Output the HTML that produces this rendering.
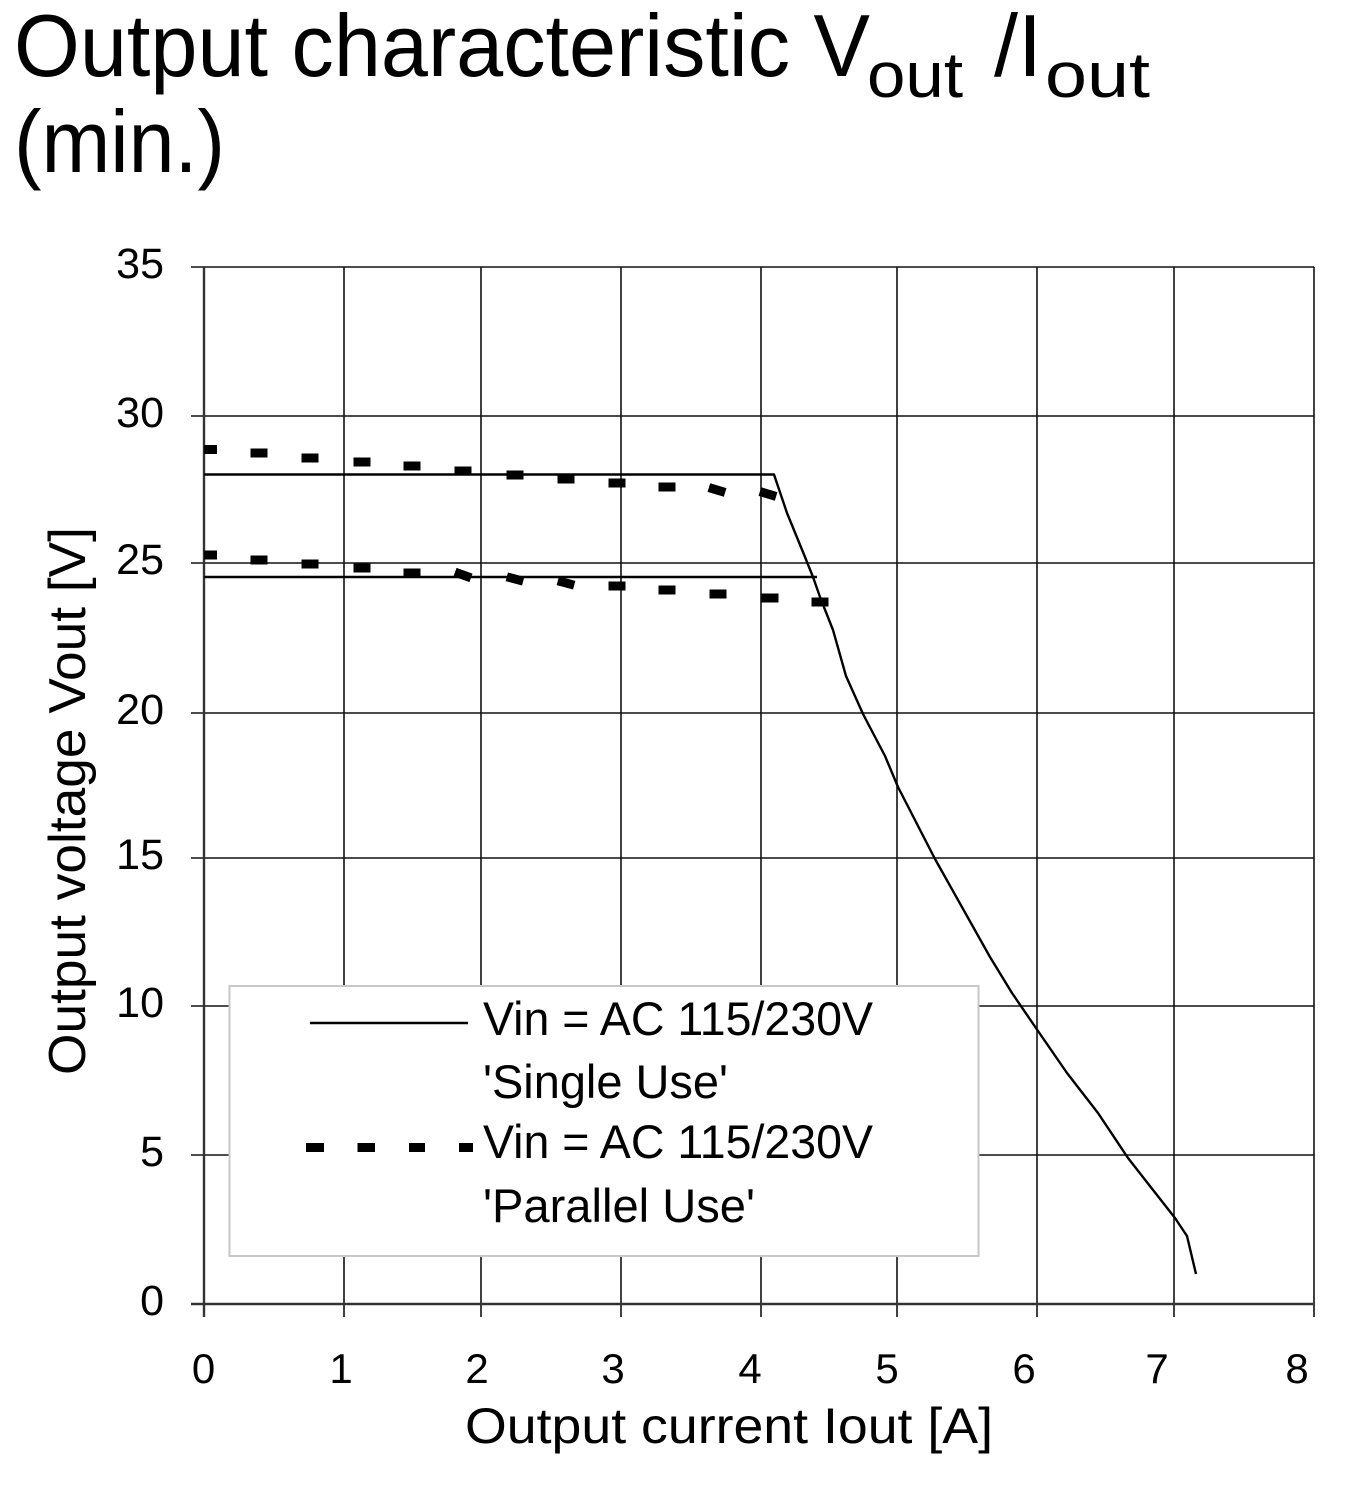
<!DOCTYPE html>
<html><head><meta charset="utf-8"><style>
html,body{margin:0;padding:0;background:#fff;}
svg{display:block;}
text{font-family:"Liberation Sans",sans-serif;fill:#000;}
</style></head><body>
<svg width="1357" height="1500" viewBox="0 0 1357 1500" xmlns="http://www.w3.org/2000/svg">
<rect x="0" y="0" width="1357" height="1500" fill="#fff"/>
<!-- Title -->
<text x="14" y="76" font-size="88" textLength="856" lengthAdjust="spacingAndGlyphs">Output characteristic V</text>
<text x="867" y="97" font-size="64" textLength="96" lengthAdjust="spacingAndGlyphs">out</text>
<text x="994" y="76" font-size="88" textLength="48" lengthAdjust="spacingAndGlyphs">/I</text>
<text x="1045" y="97" font-size="64" textLength="105" lengthAdjust="spacingAndGlyphs">out</text>
<text x="14" y="172" font-size="88" textLength="211" lengthAdjust="spacingAndGlyphs">(min.)</text>

<!-- Grid -->
<g stroke="#111" stroke-width="1.6" fill="none">
<line x1="344" y1="267" x2="344" y2="1317"/>
<line x1="481" y1="267" x2="481" y2="1317"/>
<line x1="621" y1="267" x2="621" y2="1317"/>
<line x1="761" y1="267" x2="761" y2="1317"/>
<line x1="897" y1="267" x2="897" y2="1317"/>
<line x1="1037" y1="267" x2="1037" y2="1317"/>
<line x1="1174" y1="267" x2="1174" y2="1317"/>
<line x1="1314" y1="267" x2="1314" y2="1317"/>
<line x1="191" y1="267" x2="1314" y2="267"/>
<line x1="191" y1="416" x2="1314" y2="416"/>
<line x1="191" y1="563" x2="1314" y2="563"/>
<line x1="191" y1="713" x2="1314" y2="713"/>
<line x1="191" y1="858" x2="1314" y2="858"/>
<line x1="191" y1="1006" x2="1314" y2="1006"/>
<line x1="191" y1="1155" x2="1314" y2="1155"/>
</g>
<g stroke="#333" stroke-width="2.4">
<line x1="204" y1="267" x2="204" y2="1317"/>
<line x1="191" y1="1304" x2="1314" y2="1304"/>
</g>

<!-- Legend box -->
<rect x="229.5" y="986" width="749" height="270" fill="#fff" stroke="#c8c8c8" stroke-width="2"/>

<!-- Single use curves -->
<g stroke="#000" stroke-width="2.4" fill="none" stroke-linejoin="round">
<polyline points="204,474.5 774,474.5 787,513 805,557 813,577 820,597 833,630 846,676 863,714 885,756 898,787 935,859 990,957 1012,993 1038,1031 1067,1073 1098,1113 1128,1158 1175,1218 1187,1236 1196,1274"/>
<line x1="204" y1="577" x2="817" y2="577"/>
</g>

<!-- Parallel use dashes -->
<g fill="#000">
<rect x="204" y="445" width="13" height="9"/>
<rect x="250.5" y="448.5" width="17" height="9"/>
<rect x="301.5" y="453.5" width="17" height="9"/>
<rect x="353.5" y="457.5" width="17" height="9"/>
<rect x="403.5" y="461.5" width="17" height="9"/>
<rect x="454.5" y="466.5" width="17" height="9"/>
<rect x="506.5" y="470.5" width="17" height="9"/>
<rect x="557.5" y="474.5" width="17" height="9"/>
<rect x="608.5" y="478.5" width="17" height="9"/>
<rect x="658.5" y="482.5" width="17" height="9"/>
<rect x="708.5" y="485.5" width="17" height="9" transform="rotate(17 717 490)"/>
<rect x="759.5" y="489.5" width="17" height="9" transform="rotate(17 768 494)"/>

<rect x="204" y="550.5" width="13" height="9"/>
<rect x="250.5" y="555.5" width="17" height="9"/>
<rect x="301.5" y="559.5" width="17" height="9"/>
<rect x="353.5" y="563.5" width="17" height="9"/>
<rect x="403.5" y="568.5" width="17" height="9"/>
<rect x="454.5" y="570.5" width="17" height="9" transform="rotate(20 463 575)"/>
<rect x="506.5" y="574.5" width="17" height="9" transform="rotate(15 515 579)"/>
<rect x="557.5" y="578.5" width="17" height="9" transform="rotate(15 566 583)"/>
<rect x="608.5" y="581.5" width="17" height="9"/>
<rect x="658.5" y="585.5" width="17" height="9"/>
<rect x="709.5" y="589.5" width="17" height="9"/>
<rect x="761.5" y="593.5" width="17" height="9"/>
<rect x="811.5" y="597.5" width="17" height="9"/>
</g>

<!-- Legend content -->
<line x1="310" y1="1023" x2="468" y2="1023" stroke="#000" stroke-width="2.4"/>
<g fill="#000">
<rect x="306" y="1143" width="18" height="9"/>
<rect x="357.5" y="1143" width="17.5" height="9"/>
<rect x="409" y="1143" width="16" height="9"/>
<rect x="459" y="1143" width="14" height="9"/>
</g>
<text x="483" y="1035" font-size="47" textLength="390" lengthAdjust="spacingAndGlyphs">Vin = AC 115/230V</text>
<text x="483" y="1098" font-size="47" textLength="245" lengthAdjust="spacingAndGlyphs">'Single Use'</text>
<text x="483" y="1158" font-size="47" textLength="390" lengthAdjust="spacingAndGlyphs">Vin = AC 115/230V</text>
<text x="483" y="1222" font-size="47" textLength="272" lengthAdjust="spacingAndGlyphs">'Parallel Use'</text>

<!-- Y tick labels -->
<g font-size="43" text-anchor="end">
<text x="164" y="278">35</text>
<text x="164" y="427">30</text>
<text x="164" y="574">25</text>
<text x="164" y="724">20</text>
<text x="164" y="869">15</text>
<text x="164" y="1017">10</text>
<text x="164" y="1166">5</text>
<text x="164" y="1315">0</text>
</g>

<!-- X tick labels -->
<g font-size="42" text-anchor="middle">
<text x="203.5" y="1383">0</text>
<text x="341" y="1383">1</text>
<text x="477" y="1383">2</text>
<text x="613" y="1383">3</text>
<text x="750" y="1383">4</text>
<text x="887" y="1383">5</text>
<text x="1024" y="1383">6</text>
<text x="1157" y="1383">7</text>
<text x="1297" y="1383">8</text>
</g>

<!-- Axis titles -->
<text x="465" y="1443" font-size="50" textLength="528" lengthAdjust="spacingAndGlyphs">Output current Iout [A]</text>
<text transform="translate(85,1075) rotate(-90)" x="0" y="0" font-size="52" textLength="548" lengthAdjust="spacingAndGlyphs">Output voltage Vout [V]</text>
</svg>
</body></html>
